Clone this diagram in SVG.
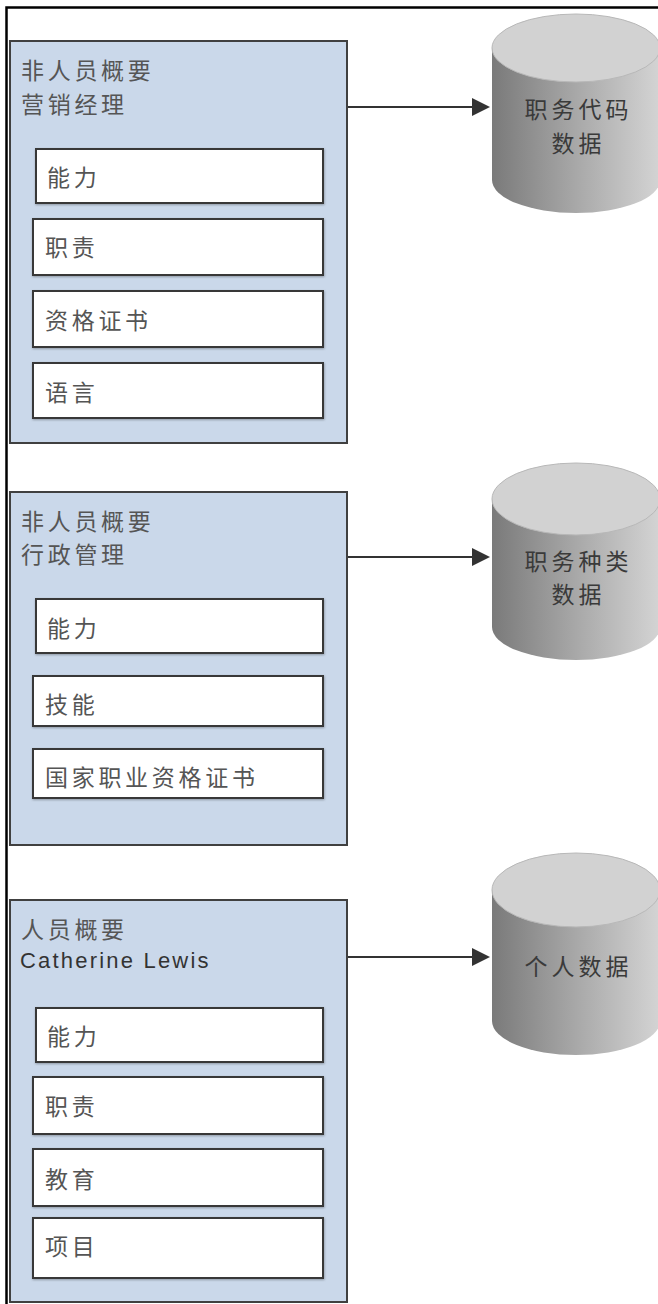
<svg xmlns="http://www.w3.org/2000/svg" width="658" height="1304" viewBox="0 0 658 1304">
<style>
.frame{stroke:#000;stroke-width:2.5;fill:none}
.outer{fill:#cad8ea;stroke:#404040;stroke-width:2}
.inner{fill:#fff;stroke:#383838;stroke-width:2;filter:url(#sh)}
.t{font-family:"Noto Sans CJK SC","Liberation Sans",sans-serif;font-size:23px;letter-spacing:3.7px;fill:#555}
.lat{font-family:"Liberation Sans",Arial,sans-serif;font-size:22px;letter-spacing:2.2px;fill:#333}
.ct{font-family:"Noto Sans CJK SC","Liberation Sans",sans-serif;font-size:23px;letter-spacing:4px;fill:#3a3a3a;text-anchor:middle}
.conn{stroke:#333;stroke-width:2.2;fill:none}
.body{fill:url(#cyl)}
.top{fill:#d2d2d2;stroke:#b8b8b8;stroke-width:1}
</style>
<defs>
<linearGradient id="cyl" x1="0" y1="0" x2="1" y2="0">
<stop offset="0" stop-color="#7a7a7a"/>
<stop offset="0.5" stop-color="#a8a8a8"/>
<stop offset="1" stop-color="#d4d4d4"/>
</linearGradient>
<filter id="sh" x="-5%" y="-10%" width="110%" height="125%">
<feDropShadow dx="0.5" dy="1" stdDeviation="0.8" flood-color="#000" flood-opacity="0.3"/>
</filter>
<marker id="ah" markerWidth="10" markerHeight="10" refX="9" refY="5" orient="auto" markerUnits="userSpaceOnUse">
<path d="M0,0 L10,5 L0,10 Z" fill="#333"/>
</marker>
</defs>
<path class="frame" d="M6.5,1304 V7.5 H658"/>

<g id="connectors">
<line class="conn" x1="347" y1="107" x2="473" y2="107"/>
<polygon points="472,98 490,107 472,116" fill="#333"/>
<line class="conn" x1="347" y1="557" x2="473" y2="557"/>
<polygon points="472,548 490,557 472,566" fill="#333"/>
<line class="conn" x1="347" y1="957" x2="473" y2="957"/>
<polygon points="472,948 490,957 472,966" fill="#333"/>
</g>

<g id="profile1">
<rect class="outer" x="10" y="41" width="337" height="402"/>
<text class="t" x="21" y="79">非人员概要</text>
<text class="t" x="21" y="113">营销经理</text>
<g id="p1-ability"><rect class="inner" x="36" y="149" width="287" height="54"/><text class="t" x="47" y="186">能力</text></g>
<g id="p1-resp"><rect class="inner" x="33" y="219" width="290" height="56"/><text class="t" x="45" y="256">职责</text></g>
<g id="p1-cert"><rect class="inner" x="33" y="291" width="290" height="56"/><text class="t" x="45" y="329">资格证书</text></g>
<g id="p1-lang"><rect class="inner" x="33" y="363" width="290" height="55"/><text class="t" x="45" y="401">语言</text></g>
</g>

<g id="profile2">
<rect class="outer" x="10" y="492" width="337" height="353"/>
<text class="t" x="21" y="530">非人员概要</text>
<text class="t" x="21" y="563">行政管理</text>
<g id="p2-ability"><rect class="inner" x="36" y="599" width="287" height="54"/><text class="t" x="47" y="637">能力</text></g>
<g id="p2-skill"><rect class="inner" x="33" y="676" width="290" height="50"/><text class="t" x="45" y="713">技能</text></g>
<g id="p2-nvq"><rect class="inner" x="33" y="749" width="290" height="49"/><text class="t" x="45" y="786">国家职业资格证书</text></g>
</g>

<g id="profile3">
<rect class="outer" x="10" y="900" width="337" height="402"/>
<text class="t" x="21" y="938">人员概要</text>
<text class="lat" x="20" y="968">Catherine Lewis</text>
<g id="p3-ability"><rect class="inner" x="36" y="1008" width="287" height="54"/><text class="t" x="47" y="1045">能力</text></g>
<g id="p3-resp"><rect class="inner" x="33" y="1077" width="290" height="57"/><text class="t" x="45" y="1115">职责</text></g>
<g id="p3-edu"><rect class="inner" x="33" y="1149" width="290" height="57"/><text class="t" x="45" y="1188">教育</text></g>
<g id="p3-proj"><rect class="inner" x="33" y="1218" width="290" height="60"/><text class="t" x="45" y="1255">项目</text></g>
</g>

<g id="db1">
<path class="body" d="M492,48 V180 A84,33 0 0 0 660,180 V48 Z"/>
<ellipse class="top" cx="576" cy="48" rx="84" ry="34"/>
<text class="ct" x="578.5" y="118">职务代码</text>
<text class="ct" x="578.5" y="152">数据</text>
</g>

<g id="db2">
<path class="body" d="M492,499 V627 A84,33 0 0 0 660,627 V499 Z"/>
<ellipse class="top" cx="576" cy="499" rx="84" ry="36"/>
<text class="ct" x="578.5" y="570">职务种类</text>
<text class="ct" x="578.5" y="603">数据</text>
</g>

<g id="db3">
<path class="body" d="M492,890 V1021 A84,34 0 0 0 660,1021 V890 Z"/>
<ellipse class="top" cx="576" cy="890" rx="84" ry="37"/>
<text class="ct" x="578.5" y="975">个人数据</text>
</g>
</svg>
